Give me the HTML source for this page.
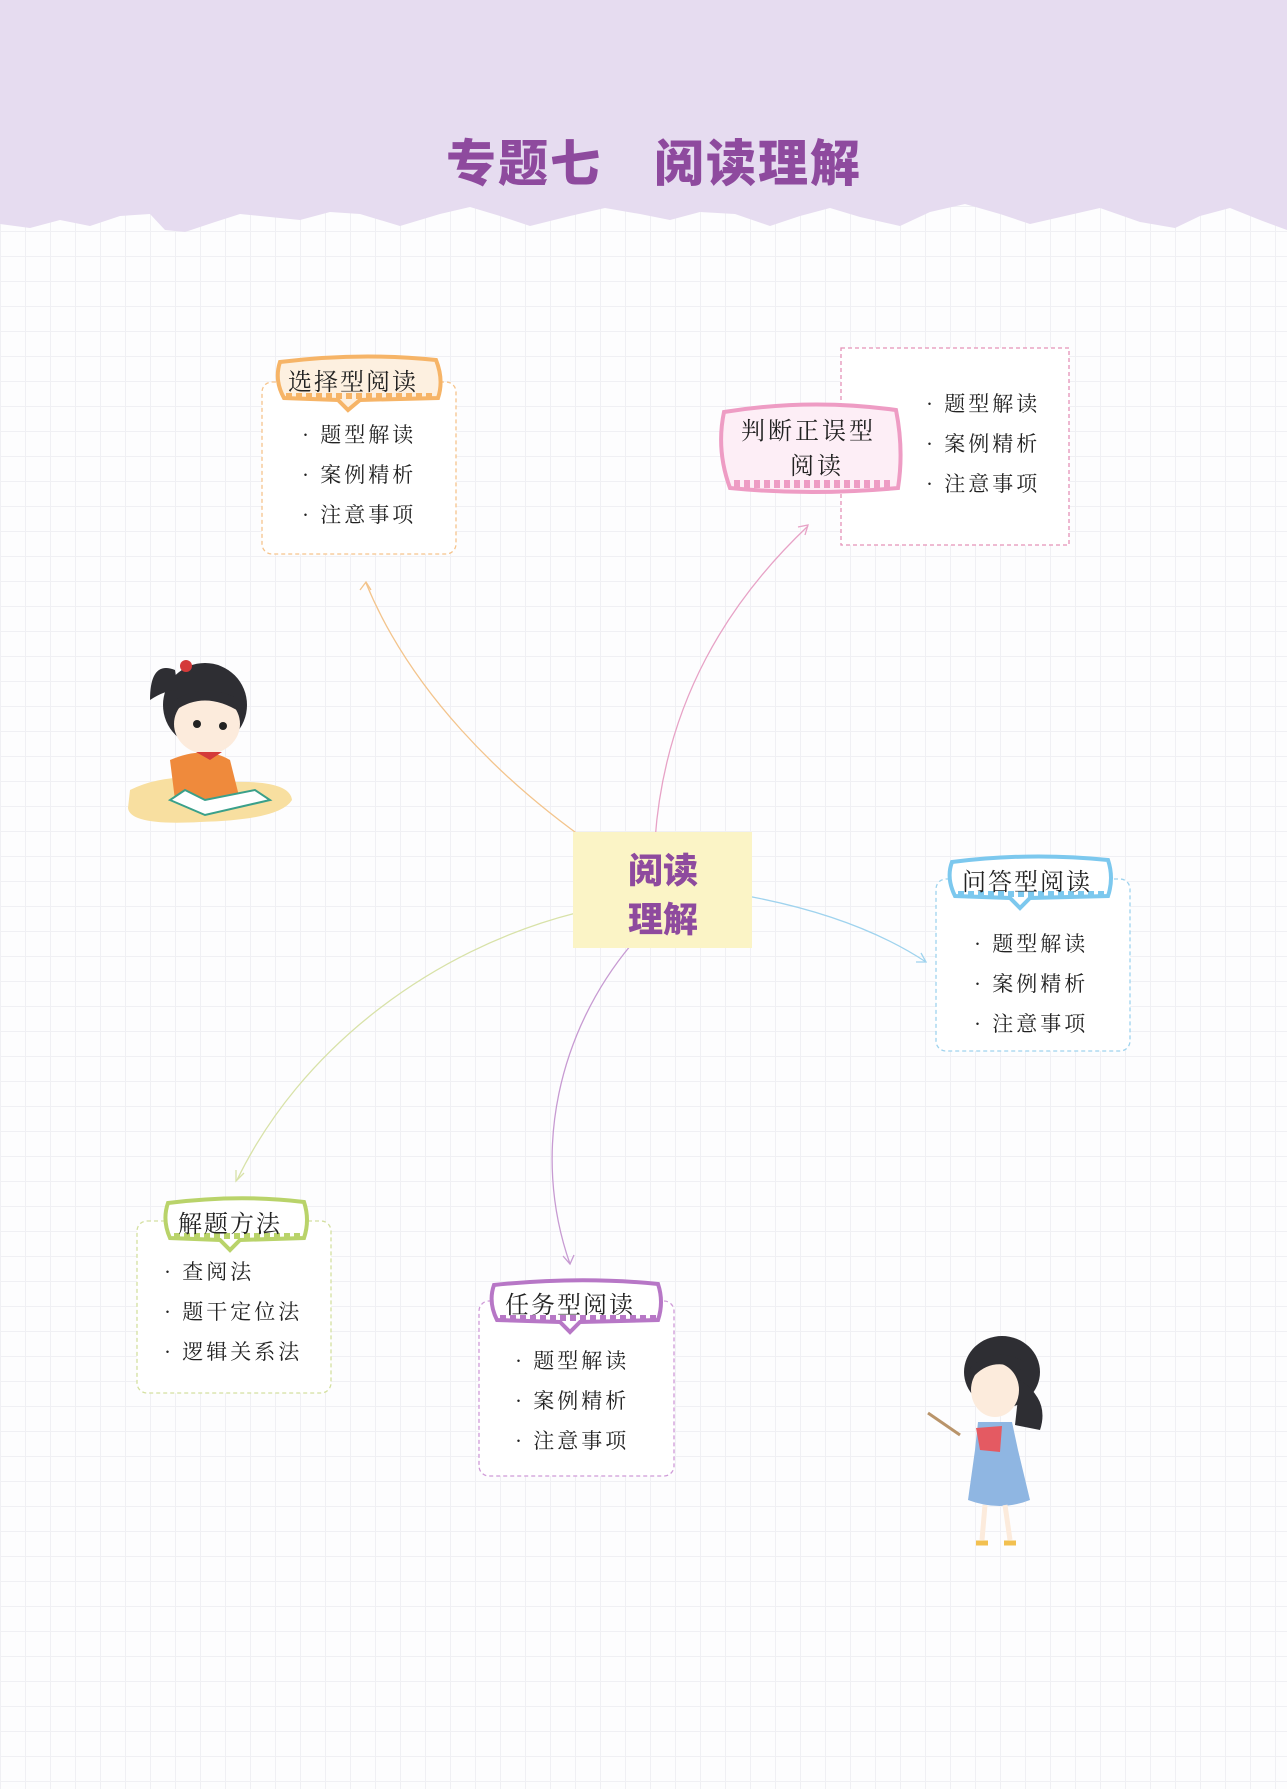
<!DOCTYPE html>
<html><head><meta charset="utf-8"><style>
html,body{margin:0;padding:0}
body{width:1287px;height:1789px;position:relative;overflow:hidden;background:#fdfdfe;
background-image:linear-gradient(#f0f0f4 1px,transparent 1px),linear-gradient(90deg,#f0f0f4 1px,transparent 1px);
background-size:25px 25px;background-position:0 6px;font-family:"Liberation Serif","Noto Serif CJK SC",serif}
svg{position:absolute;left:0;top:0}
.t{position:absolute;font-family:"Liberation Serif","Noto Serif CJK SC",serif;color:#222;white-space:nowrap}
.it{font-size:21px;letter-spacing:3px;line-height:40px}
</style></head><body>
<svg width="1287" height="1789" viewBox="0 0 1287 1789">
<path d="M0 0H1287V230 L1260 220 1230 208 1200 216 1175 228 1140 222 1100 208 1065 216 1030 224 1000 214 965 204 930 212 900 226 860 217 830 208 800 216 770 226 735 214 700 212 670 220 640 214 605 208 570 216 530 226 500 216 470 207 440 214 400 226 360 214 330 212 300 220 270 217 240 214 215 222 185 232 165 230 150 214 120 216 90 226 60 220 30 228 0 224Z" fill="#e6dcf0"/>
<text x="654" y="181" text-anchor="middle" font-family="Liberation Sans, Noto Sans CJK SC, sans-serif" font-weight="900" font-size="50" fill="#8e4a9e" letter-spacing="2">专题七　阅读理解</text>

<g fill="none" stroke-width="1.3">
<path d="M593 845 C500 780 410 690 366 583" stroke="#f3c48c"/>
<path d="M655 840 C665 700 730 600 808 526" stroke="#e7a2c6"/>
<path d="M736 894 C800 905 870 925 926 962" stroke="#9fd3ee"/>
<path d="M576 913 C430 950 300 1050 237 1180" stroke="#d8e2a8"/>
<path d="M631 945 C560 1030 530 1150 570 1264" stroke="#c79ad2"/>
</g>
<g stroke-width="1.3" fill="none">
<path d="M360 590 L366 582 L371 590" stroke="#f3c48c"/>
<path d="M798 527 L808 525 L805 535" stroke="#e7a2c6"/>
<path d="M916 962 L926 962 L921 953" stroke="#9fd3ee"/>
<path d="M236 1170 L236 1181 L244 1173" stroke="#d8e2a8"/>
<path d="M563 1256 L570 1264 L574 1255" stroke="#c79ad2"/>
</g>

<g fill="#fff" stroke-width="1.3" stroke-dasharray="4 3">
<rect x="262" y="382" width="194" height="172" rx="10" stroke="#f6c48c"/>
<rect x="841" y="348" width="228" height="197" stroke="#e592b8"/>
<rect x="936" y="879" width="194" height="172" rx="10" stroke="#9fd3ee"/>
<rect x="137" y="1221" width="194" height="172" rx="10" stroke="#d4e0a0"/>
<rect x="479" y="1301" width="195" height="175" rx="10" stroke="#cf9ad8"/>
</g>

<g>
<path d="M280 362 Q360 352 436 360 Q444 380 438 398 L360 400 L348 410 L338 400 L284 398 Q274 380 280 362Z" fill="#fdf0e0" stroke="#f6b467" stroke-width="4"/>
<path d="M286 396 H436" stroke="#f6b467" stroke-width="6" stroke-dasharray="6 4"/>
<path d="M724 412 Q810 398 896 410 Q904 450 898 488 Q810 496 730 488 Q716 450 724 412Z" fill="#fdeef6" stroke="#ee9cc4" stroke-width="4"/>
<path d="M734 484 H894" stroke="#ee9cc4" stroke-width="8" stroke-dasharray="6 4"/>
<path d="M952 862 Q1030 852 1108 860 Q1114 878 1108 896 L1030 898 L1020 908 L1010 898 L955 896 Q946 878 952 862Z" fill="#fff" stroke="#7cc8ee" stroke-width="4"/>
<path d="M958 894 H1108" stroke="#7cc8ee" stroke-width="6" stroke-dasharray="6 4"/>
<path d="M168 1203 Q240 1194 304 1202 Q310 1220 304 1238 L240 1240 L230 1250 L220 1240 L170 1238 Q162 1220 168 1203Z" fill="#fff" stroke="#b9d36a" stroke-width="4"/>
<path d="M174 1236 H304" stroke="#b9d36a" stroke-width="6" stroke-dasharray="6 4"/>
<path d="M494 1285 Q580 1276 658 1284 Q664 1302 658 1320 L580 1322 L570 1332 L560 1322 L497 1320 Q488 1302 494 1285Z" fill="#fff" stroke="#b777c6" stroke-width="4"/>
<path d="M500 1318 H658" stroke="#b777c6" stroke-width="6" stroke-dasharray="6 4"/>
</g>

<rect x="573" y="832" width="179" height="116" fill="#fbf4c6"/>
<text x="663" y="883" text-anchor="middle" font-family="Liberation Sans, Noto Sans CJK SC, sans-serif" font-weight="900" font-size="35" fill="#8e4a9e">阅读</text>
<text x="663" y="932" text-anchor="middle" font-family="Liberation Sans, Noto Sans CJK SC, sans-serif" font-weight="900" font-size="35" fill="#8e4a9e">理解</text>

<g>
<path d="M130 790 Q170 770 230 782 Q290 780 292 800 Q280 820 200 822 Q130 826 128 808Z" fill="#f8dfa0"/>
<ellipse cx="205" cy="705" rx="42" ry="42" fill="#2e2e33"/>
<path d="M175 670 Q150 660 150 700 Q165 690 178 690Z" fill="#2e2e33"/>
<circle cx="186" cy="666" r="6" fill="#d43a3a"/>
<ellipse cx="207" cy="724" rx="33" ry="30" fill="#fcebdc"/>
<path d="M176 710 Q205 690 240 712 L240 700 Q205 680 172 702Z" fill="#2e2e33"/>
<circle cx="197" cy="724" r="4" fill="#222"/><circle cx="223" cy="726" r="4" fill="#222"/>
<path d="M170 760 Q205 745 230 760 L240 800 L175 800Z" fill="#ef8a3c"/>
<path d="M196 752 L210 760 L222 752Z" fill="#d43a3a"/>
<path d="M170 800 L205 815 L270 800 L255 790 L205 800 L185 790Z" fill="#fff" stroke="#3aa08a" stroke-width="2"/>
</g>

<g>
<path d="M928 1413 L960 1435" stroke="#b9946a" stroke-width="3"/>
<ellipse cx="1002" cy="1372" rx="38" ry="36" fill="#2e2e33"/>
<path d="M1020 1380 Q1050 1400 1040 1430 L1015 1425Z" fill="#2e2e33"/>
<ellipse cx="995" cy="1390" rx="24" ry="27" fill="#fcebdc"/>
<path d="M975 1375 Q995 1355 1025 1372 L1025 1362 Q995 1345 970 1368Z" fill="#2e2e33"/>
<path d="M978 1422 L1012 1422 L1018 1450 L1030 1500 Q1000 1512 968 1500 L975 1450Z" fill="#8fb6e2"/>
<path d="M976 1428 L1002 1426 L1000 1452 L980 1450Z" fill="#e45a62"/>
<path d="M985 1505 L982 1540 M1005 1505 L1010 1540" stroke="#fcebdc" stroke-width="5"/>
<path d="M976 1543 h12 M1004 1543 h12" stroke="#f2c050" stroke-width="5"/>
</g>
</svg>

<div class="t" style="left:288px;top:362px;font-size:24px;letter-spacing:2px">选择型阅读</div>
<div class="t" style="left:741px;top:411px;font-size:24px;letter-spacing:3px">判断正误型</div>
<div class="t" style="left:790px;top:446px;font-size:24px;letter-spacing:3px">阅读</div>
<div class="t" style="left:962px;top:862px;font-size:24px;letter-spacing:2px">问答型阅读</div>
<div class="t" style="left:178px;top:1204px;font-size:24px;letter-spacing:2px">解题方法</div>
<div class="t" style="left:505px;top:1285px;font-size:24px;letter-spacing:2px">任务型阅读</div>

<div class="t it" style="left:302px;top:415px">· 题型解读<br>· 案例精析<br>· 注意事项</div>
<div class="t it" style="left:926px;top:384px">· 题型解读<br>· 案例精析<br>· 注意事项</div>
<div class="t it" style="left:974px;top:924px">· 题型解读<br>· 案例精析<br>· 注意事项</div>
<div class="t it" style="left:164px;top:1252px">· 查阅法<br>· 题干定位法<br>· 逻辑关系法</div>
<div class="t it" style="left:515px;top:1341px">· 题型解读<br>· 案例精析<br>· 注意事项</div>
</body></html>
